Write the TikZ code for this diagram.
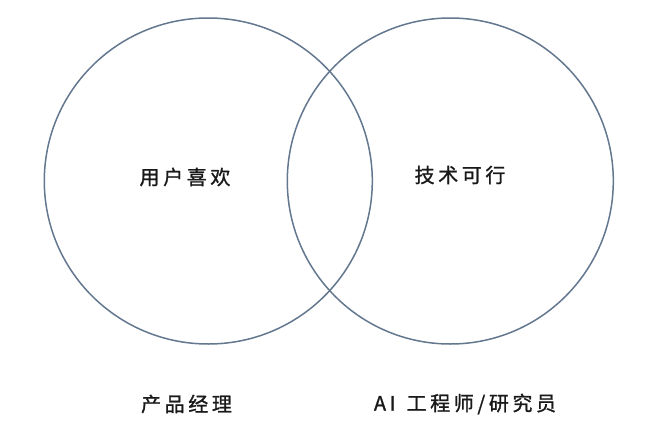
\documentclass[tikz,border=0pt]{standalone}
\usepackage{fontspec}
\usetikzlibrary{shapes.geometric}
\newfontfamily\cjk[LetterSpace=18,FakeBold=1.2]{Noto Sans CJK SC}
\definecolor{ringc}{HTML}{63778F}
\begin{document}
\begin{tikzpicture}[x=1pt,y=-1pt,
  ring/.style={draw=ringc,line width=1.5pt,ellipse,inner sep=0pt},
  lab/.style={font=\cjk\fontsize{20}{24}\selectfont,text=black!90,inner sep=0pt}]
\useasboundingbox (0,0) rectangle (672,439);
\node[ring,minimum width=328pt,minimum height=326pt] (L) at (208.3,181) {};
\node[ring,minimum width=326pt,minimum height=326pt] (R) at (450.3,181) {};
\node[lab] (t1) at (185,177) {用户喜欢};
\node[lab] (t2) at (460,175) {技术可行};
\node[lab] (b1) at (186.5,404) {产品经理};
\node[lab] (b2) at (465,404) {AI\hspace{3pt} 工程师/研究员};
\end{tikzpicture}
\end{document}
